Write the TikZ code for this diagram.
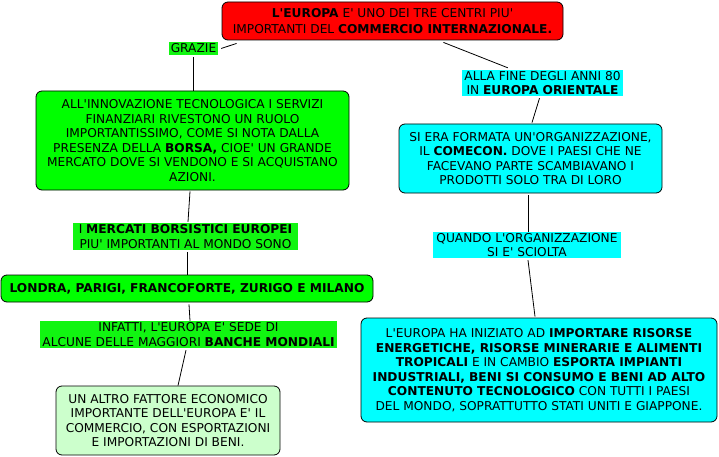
\documentclass[tikz,border=0pt]{standalone}
\usepackage{fontspec}
\setmainfont{DejaVu Sans}[Ligatures=TeXOff]
\definecolor{boxred}{HTML}{FF0000}
\definecolor{boxgreen}{HTML}{00FF00}
\definecolor{labgreen}{HTML}{11F511}
\definecolor{boxcyan}{HTML}{00FFFF}
\definecolor{boxlight}{HTML}{CCFFCC}
\begin{document}
\begin{tikzpicture}[x=1pt,y=-1pt,
  every node/.style={font=\fontsize{12.2}{14.5}\selectfont, align=center, inner sep=0pt, text=black},
  box/.style={draw=black, line width=0.8pt, rounded corners=6pt},
  lab/.style={draw=none},
  conn/.style={draw=black, line width=0.8pt}]
\useasboundingbox (0,0) rectangle (719,457);

% main nodes
\node[box, fill=boxred, minimum width=341, minimum height=38, font=\fontsize{12.2}{15.5}\selectfont] (red) at (392.5,21)
  {\textbf{L'EUROPA} E' UNO DEI TRE CENTRI PIU'\\IMPORTANTI DEL \textbf{COMMERCIO INTERNAZIONALE.}};

\node[lab, fill=labgreen, minimum width=49, minimum height=13] (grazie) at (193.5,48.5) {GRAZIE};

\node[box, fill=boxgreen, minimum width=313, minimum height=99] (g1) at (192.5,140.5)
  {ALL'INNOVAZIONE TECNOLOGICA I SERVIZI\\FINANZIARI RIVESTONO UN RUOLO\\IMPORTANTISSIMO, COME SI NOTA DALLA\\PRESENZA DELLA \textbf{BORSA,} CIOE' UN GRANDE\\MERCATO DOVE SI VENDONO E SI ACQUISTANO\\AZIONI.};

\node[lab, fill=labgreen, minimum width=225, minimum height=27] (lab2) at (185.5,236.5)
  {I \textbf{MERCATI BORSISTICI EUROPEI}\\PIU' IMPORTANTI AL MONDO SONO};

\node[box, fill=boxgreen, minimum width=372, minimum height=27] (londra) at (187,288.5)
  {\textbf{LONDRA, PARIGI, FRANCOFORTE, ZURIGO E MILANO}};

\node[lab, fill=labgreen, minimum width=297, minimum height=27] (lab3) at (188.5,334.5)
  {INFATTI, L'EUROPA E' SEDE DI\\ALCUNE DELLE MAGGIORI \textbf{BANCHE MONDIALI}};

\node[box, fill=boxlight, minimum width=224, minimum height=69] (lg) at (168,420.5)
  {UN ALTRO FATTORE ECONOMICO\\IMPORTANTE DELL'EUROPA E' IL\\COMMERCIO, CON ESPORTAZIONI\\E IMPORTAZIONI DI BENI.};

\node[lab, fill=boxcyan, minimum width=161, minimum height=26] (alla) at (542.5,83)
  {ALLA FINE DEGLI ANNI 80\\IN \textbf{EUROPA ORIENTALE}};

\node[box, fill=boxcyan, minimum width=263, minimum height=69] (c1) at (530.5,158.5)
  {SI ERA FORMATA UN'ORGANIZZAZIONE,\\IL \textbf{COMECON.} DOVE I PAESI CHE NE\\FACEVANO PARTE SCAMBIAVANO I\\PRODOTTI SOLO TRA DI LORO};

\node[lab, fill=boxcyan, minimum width=188, minimum height=26] (quando) at (527,245)
  {QUANDO L'ORGANIZZAZIONE\\SI E' SCIOLTA};

\node[box, fill=boxcyan, minimum width=356, minimum height=104] (c2) at (539,370)
  {L'EUROPA HA INIZIATO AD \textbf{IMPORTARE RISORSE}\\\textbf{ENERGETICHE, RISORSE MINERARIE E ALIMENTI}\\\textbf{TROPICALI} E IN CAMBIO \textbf{ESPORTA IMPIANTI}\\\textbf{INDUSTRIALI, BENI SI CONSUMO E BENI AD ALTO}\\\textbf{CONTENUTO TECNOLOGICO} CON TUTTI I PAESI\\DEL MONDO, SOPRATTUTTO STATI UNITI E GIAPPONE.};

% connectors
\draw[conn] ([xshift=15pt,yshift=-3pt]red.south west) -- ([xshift=3pt]grazie.east);
\draw[conn] ([yshift=-2pt]grazie.south) -- (grazie.south |- g1.north);
\draw[conn] ([xshift=-2.5pt,yshift=-1pt]g1.south) -- ([xshift=2.5pt,yshift=1pt]lab2.north);
\draw[conn] ([xshift=1.5pt,yshift=-2pt]lab2.south) -- (londra.north);
\draw[conn] ([xshift=2pt,yshift=-2pt]londra.south) -- ([xshift=1.5pt]lab3.north);
\draw[conn] ([xshift=-2.5pt,yshift=-2pt]lab3.south) -- ([xshift=10pt]lg.north);

\draw[conn] ([xshift=-120pt,yshift=-2pt]red.south east) -- ([xshift=46pt,yshift=2pt]alla.north west);
\draw[conn] ([xshift=-3pt,yshift=-2pt]alla.south) -- ([xshift=1.5pt,yshift=1pt]c1.north);
\draw[conn] ([xshift=-2.5pt,yshift=-2pt]c1.south) -- ([xshift=1pt]quando.north);
\draw[conn] ([xshift=1pt,yshift=-2pt]quando.south) -- ([xshift=-4pt,yshift=1pt]c2.north);
\end{tikzpicture}
\end{document}
